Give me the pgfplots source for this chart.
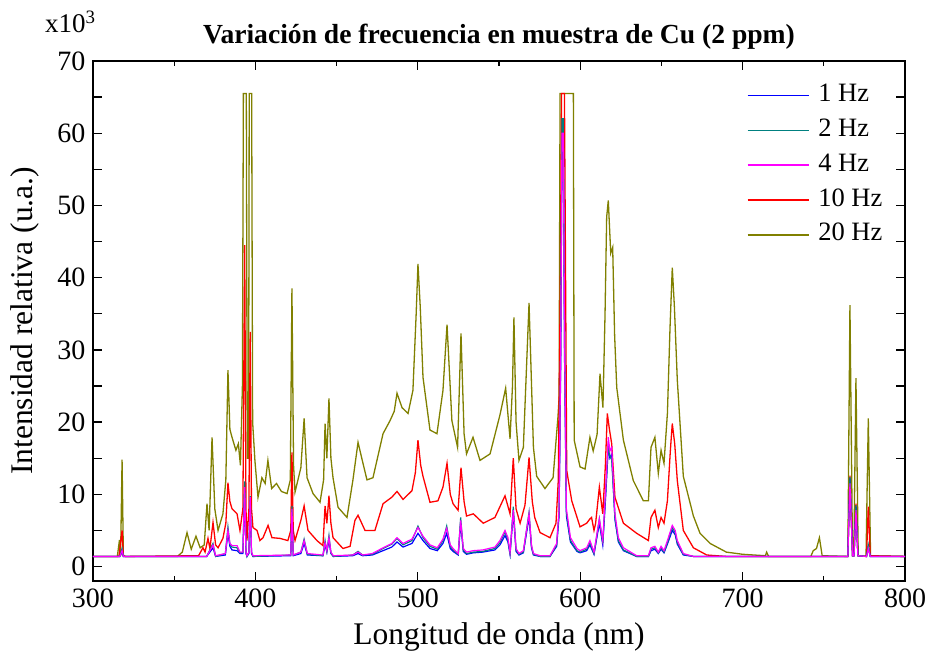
\documentclass[border=0pt]{standalone}
\usepackage{fontspec}
\setmainfont{Liberation Serif}
\usepackage{pgfplots}
\pgfplotsset{compat=1.18}
\definecolor{cA}{RGB}{0,0,255}
\definecolor{cB}{RGB}{0,128,128}
\definecolor{cC}{RGB}{255,0,255}
\definecolor{cD}{RGB}{255,0,0}
\definecolor{cE}{RGB}{128,128,0}
\begin{document}
\begin{tikzpicture}[x=1pt,y=1pt]
\path[use as bounding box] (-93pt,-78pt) rectangle (837pt,581pt);
\begin{axis}[
  scale only axis, width=812pt, height=520pt,
  xmin=300, xmax=800, ymin=-2, ymax=70,
  xtick={300,400,...,800}, minor xtick={350,450,...,750},
  ytick={0,5,...,70},
  yticklabels={0,{},10,{},20,{},30,{},40,{},50,{},60,{},70},
  tick align=inside,
  major tick length=9pt, minor tick length=5pt,
  every tick/.style={black, line width=1.3pt},
  axis line style={line width=1.3pt},
  /pgf/number format/assume math mode=true,
  ticklabel style={font=\fontsize{28}{28}\selectfont},
  xticklabel style={yshift=-4pt},
  yticklabel style={xshift=-4pt},
  title={Variación de frecuencia en muestra de Cu (2 ppm)},
  title style={font=\fontsize{27.6}{27.6}\selectfont\bfseries, at={(axis description cs:0.5,1)}, anchor=base, yshift=12pt},
  xlabel={Longitud de onda (nm)},
  xlabel style={font=\fontsize{31.5}{31.5}\selectfont, at={(axis description cs:0.5,-0.108)}, anchor=center},
  ylabel={Intensidad relativa (u.a.)},
  ylabel style={font=\fontsize{31.5}{31.5}\selectfont, at={(axis description cs:-0.084,0.5)}, anchor=center},
  legend style={draw=none, fill=none, at={(axis description cs:0.805,0.955)}, anchor=north west,
    font=\fontsize{26.5}{26.5}\selectfont, row sep=12.8pt, inner sep=0pt,
    nodes={inner sep=0pt, text height=17pt, text depth=5pt}},
  legend cell align=left,
  legend image code/.code={\draw[#1, line width=1.5pt] (0pt,0pt) -- (61pt,0pt);},
  every axis legend/.append style={column sep=9pt},
]
\addlegendimage{cA}\addlegendentry{1 Hz}
\addlegendimage{cB}\addlegendentry{2 Hz}
\addlegendimage{cC}\addlegendentry{4 Hz}
\addlegendimage{cD}\addlegendentry{10 Hz}
\addlegendimage{cE}\addlegendentry{20 Hz}

% 20 Hz
\addplot[cE, line width=1.3pt, forget plot] coordinates {
(300,1.4)(315,1.4)(316.3,3.7)(317,1.5)(317.9,14.8)(318.7,1.5)(320,1.4)(352,1.4)(355,2.0)(357.9,4.7)(360.5,2.4)(363.4,4.2)(366,2.6)(368.5,3.0)(370.2,8.7)(371.5,5.0)(373.3,17.9)(375,8)(377,5.0)(380,7.3)(381.8,12)(383.1,27.2)(384.3,19)(385.6,17.9)(388,16.1)(389.5,17)(390.8,14)(392,25)(392.6,65.5)(394.4,65.5)(395,15)(395.8,15)(396.2,65.5)(397.7,65.5)(398.3,20)(399.7,14.7)(401.6,9.6)(404,12.3)(406,11.5)(407.7,14.7)(410,10.8)(413,11.5)(416,10.4)(419.5,10.1)(421.5,12)(422.5,38.5)(423.5,14)(424.4,10.3)(428,13.7)(430,20.5)(431.8,12.3)(435.5,10.1)(439.8,8.9)(442,12)(442.9,19.8)(444,15)(445.3,23.3)(446.5,15)(447.8,12.3)(450.9,8.2)(456.4,6.8)(460,11.9)(463.2,17.2)(465.5,15)(468.7,12)(472.4,12.3)(478.6,18.4)(482.9,20.2)(485.5,21.5)(487.2,24)(490.3,22)(494,21.2)(497,24.4)(499,35)(500.1,41.9)(501.5,36)(503.2,26.2)(507.5,18.9)(511.8,18.4)(515.5,24.4)(518,33.5)(521,20.2)(524.5,16.5)(526.6,32.3)(528.5,18.4)(530,15.6)(534,17.9)(538.3,14.7)(544.5,15.6)(550.6,21.0)(554.1,24.7)(556.8,17.7)(558.3,25)(559.2,34.5)(560.5,20)(562.3,14.7)(565,16.5)(568.5,36.5)(571.2,16.5)(573.2,12.5)(578.3,10.8)(583.3,12.3)(586.3,20.7)(587,23.4)(587.6,65.5)(595.8,65.5)(596.3,17.5)(599.9,13.8)(603,13.5)(606,17.9)(608,16)(610.4,18.3)(612.2,26.7)(614,22)(615.3,35)(616.3,48.4)(617.3,50.7)(618.8,43.4)(620,44.2)(621.2,32)(622.5,24.8)(626.6,17.5)(632.7,11.9)(638.9,9.1)(642,9.1)(643.6,16.5)(646,17.9)(648.1,12.9)(649.8,16.1)(651.6,14.3)(653.7,21.2)(655.3,33)(656.7,41.4)(658,36)(659.8,25.8)(663.5,12.5)(669.7,7)(673.8,4.6)(680,3.2)(690,2.0)(700,1.7)(714,1.5)(714.8,2.0)(716,1.4)(742,1.4)(743.5,2.2)(745.5,2.5)(747.3,4.0)(749,1.5)(764.8,1.4)(766.1,36.2)(767.7,1.5)(768.5,1.5)(769.8,26.1)(771.2,1.5)(776,1.4)(777.4,20.5)(778.8,1.5)(800,1.4)
};
% 10 Hz
\addplot[cD, line width=1.3pt, forget plot] coordinates {
(300,1.4)(316,1.4)(317.9,5.0)(318.7,1.5)(320,1.4)(365,1.5)(367.7,2.6)(369,2.0)(370.8,3.9)(372,2.5)(373.9,6.1)(375.5,3.0)(377,2.6)(380,3.9)(381.8,6)(383.1,11.6)(384.3,9)(385.6,8.0)(388.7,7.3)(390.5,5)(392.3,8)(393.4,44.5)(394.2,8)(394.8,3.6)(396,8)(396.8,32.5)(397.6,8)(398.5,5.4)(401,5)(402.8,3.6)(404.7,4)(407.8,5.7)(410.2,4)(415.1,3.9)(420,3.6)(421.8,5)(422.5,15.8)(423.3,5)(424.4,3.6)(428,6.4)(430,8.4)(432.4,5)(437.9,3.6)(441.6,2.9)(442.9,8.4)(444,6)(445.3,9.8)(446.5,6)(447.8,4)(453.9,2.5)(458.3,2.8)(461.3,6.4)(463.2,7.1)(467.5,5)(473.6,5)(478.6,8.7)(484,9.6)(487.2,10.4)(490.9,9.3)(496.4,10.5)(498.5,13)(500.1,17.5)(501.8,14)(503.2,12.5)(507.5,8.9)(512.4,9.1)(515.5,11)(518,14.3)(520,10)(521.7,8.7)(524.8,7.8)(526.6,13.7)(528.5,9)(530,7)(534.2,7.3)(540.3,6)(547.5,6.8)(553.7,9.8)(556.8,7.3)(558.8,15)(560.5,8)(563,6)(566,8.5)(568.5,15.1)(570.5,9)(572,6.8)(575.3,4.7)(581.4,4.0)(585.1,6)(586.5,11.9)(587.8,40)(588.5,65.5)(590.3,65.5)(591,40)(591.7,13.3)(594.8,9.1)(599.9,5.5)(604,6)(606,6.6)(607,6.8)(608.5,5)(609.5,6)(611.8,11)(613.9,7.3)(615.5,14)(616.7,21.2)(618,19)(619.4,17)(621.4,9.6)(626.6,6)(634.8,4.6)(642,3.6)(643.6,6.8)(646,7.8)(648.1,5.4)(649.8,6.8)(651.6,6)(653.7,9.1)(655.5,16)(656.7,19.8)(658.2,17)(659.8,11.9)(663.5,5)(669.7,2.6)(677.9,1.6)(690,1.4)(764.8,1.4)(766.1,12.6)(767.7,1.5)(768.6,1.5)(769.8,8.7)(771,1.5)(776.3,1.4)(777.4,8.3)(778.6,1.5)(800,1.4)
};
% 1 Hz
\addplot[cA, line width=1.2pt, forget plot] coordinates {
(300,1.4)(316.5,1.4)(317.9,2.0)(318.7,1.4)(370,1.4)(373.9,2.6)(375.5,1.4)(381.5,1.6)(383.1,4.6)(384.3,2.8)(385.6,2.3)(388.7,2.2)(390.5,1.8)(392.3,1.8)(393.4,10.5)(394.2,1.8)(394.8,1.4)(396,1.8)(396.8,9.0)(397.6,1.8)(398.5,1.4)(421.8,1.5)(422.5,7.6)(423.3,1.5)(428,1.8)(430,3.2)(432,1.6)(441.6,1.5)(442.9,3.0)(444,2.0)(445.3,3.6)(446.5,1.8)(448,1.4)(460,1.5)(463.2,1.8)(466,1.5)(472,1.6)(478.6,2.2)(484,2.7)(487.2,3.4)(490.9,2.7)(496.4,3.2)(500.1,4.6)(503.2,3.6)(507.5,2.5)(512,2.2)(515.5,3.2)(517.8,4.6)(520,2.5)(521.7,2.1)(524.9,1.6)(526.4,6.0)(528,2.1)(530,1.7)(534.2,1.9)(540,2.0)(547.5,2.3)(550.6,3.0)(553.7,4.3)(555.5,3.4)(556.8,1.7)(558.8,7.4)(560.5,2.1)(562.3,1.6)(565,1.9)(568.5,6.8)(570,2.6)(571.2,1.6)(575.3,1.4)(581.4,1.4)(585.5,2.8)(587,7)(588,28)(588.8,59)(589.6,59)(590.4,28)(591.5,7)(594,3.4)(598,2.1)(599.9,1.9)(604,2.2)(606,3.0)(608.5,1.7)(611.8,6.0)(613.9,3.0)(615.5,9)(617.3,16.5)(618.3,15)(619.4,15.5)(621.4,6.5)(623.5,3.4)(626.6,2.2)(634.8,1.4)(642,1.4)(643.6,2.2)(646,2.4)(648.1,1.8)(649.8,2.4)(651.6,1.9)(653.7,3.1)(656.7,5.0)(658.5,4.4)(659.8,3.1)(663.5,1.6)(669.7,1.4)(764.8,1.4)(766.1,12.2)(767.7,1.5)(768.6,1.5)(769.8,8.3)(771,1.5)(776.3,1.4)(777.4,2.6)(778.6,1.4)(800,1.4)
};
% 2 Hz
\addplot[cB, line width=1.2pt, forget plot] coordinates {
(300,1.4)(316.5,1.4)(317.9,2.5)(318.7,1.4)(370,1.4)(373.9,3.2)(375.5,1.4)(381.5,1.8)(383.1,5.5)(384.3,3.1)(385.6,2.7)(388.7,2.6)(390.5,1.9)(392.3,2)(393.4,11.8)(394.2,2)(394.8,1.4)(396,2)(396.8,9.8)(397.6,2)(398.5,1.4)(421.8,1.6)(422.5,8.4)(423.3,1.6)(428,2)(430,3.8)(432,1.7)(441.6,1.5)(442.9,3.6)(444,2.1)(445.3,4.3)(446.5,1.9)(448,1.4)(460,1.6)(463.2,2.1)(466,1.6)(472,1.7)(478.6,2.5)(484,3.1)(487.2,3.9)(490.9,3.0)(496.4,3.6)(500.1,5.6)(503.2,4.0)(507.5,2.8)(512,2.4)(515.5,3.6)(517.8,5.6)(520,2.8)(521.7,2.3)(524.9,1.7)(526.4,6.8)(528,2.3)(530,1.8)(534.2,2.0)(540,2.1)(547.5,2.5)(550.6,3.3)(553.7,4.8)(555.5,3.7)(556.8,1.8)(558.8,8.3)(560.5,2.3)(562.3,1.7)(565,2.0)(568.5,7.5)(570,2.8)(571.2,1.7)(575.3,1.4)(581.4,1.4)(585.5,3.0)(587,7.5)(588,30)(588.8,62)(589.6,62)(590.4,30)(591.5,7.5)(594,3.6)(598,2.2)(599.9,2.0)(604,2.4)(606,3.3)(608.5,1.8)(611.8,6.6)(613.9,3.2)(615.5,9.5)(617.3,17)(618.3,15.3)(619.4,14.8)(621.4,6.8)(623.5,3.6)(626.6,2.3)(634.8,1.4)(642,1.4)(643.6,2.4)(646,2.6)(648.1,1.9)(649.8,2.6)(651.6,2.0)(653.7,3.3)(656.7,5.4)(658.5,4.7)(659.8,3.3)(663.5,1.7)(669.7,1.4)(764.8,1.4)(766.1,12.4)(767.7,1.5)(768.6,1.5)(769.8,8.5)(771,1.5)(776.3,1.4)(777.4,3.0)(778.6,1.4)(800,1.4)
};
% 4 Hz
\addplot[cC, line width=1.2pt, forget plot] coordinates {
(300,1.4)(316.5,1.4)(317.9,2.2)(318.7,1.4)(370,1.4)(373.9,3.0)(375.5,1.5)(381.5,1.8)(383.1,5)(384.3,3.2)(385.6,2.9)(388.7,2.9)(390.5,2.0)(392.3,2)(393.4,11)(394.2,2)(394.8,1.5)(396,2)(396.8,9.6)(397.6,2)(398.5,1.5)(421.8,1.6)(422.5,8.0)(423.3,1.6)(428,2)(430,3.6)(432,1.8)(441.6,1.6)(442.9,3.3)(444,2.2)(445.3,4.0)(446.5,2)(448,1.5)(460,1.6)(463.2,2.0)(466,1.6)(472,1.8)(478.6,2.6)(484,3.2)(487.2,4)(490.9,3.2)(496.4,3.8)(500.1,5.4)(503.2,4.2)(507.5,3)(512,2.6)(515.5,3.8)(517.8,5.3)(520,3)(521.7,2.5)(524.9,1.8)(526.4,6.4)(528,2.5)(530,2)(534.2,2.2)(540,2.3)(547.5,2.7)(550.6,3.6)(553.7,5.0)(555.5,4)(556.8,2)(558.8,7.8)(560.5,2.5)(562.3,1.8)(565,2.2)(568.5,7.3)(570,3)(571.2,1.8)(575.3,1.5)(581.4,1.5)(585.5,3.2)(587,8)(588,30)(588.8,60)(589.6,60)(590.4,30)(591.5,8)(594,4)(598,2.5)(599.9,2.2)(604,2.6)(606,3.6)(608.5,2)(611.8,6.6)(613.9,3.6)(615.5,10)(617.3,17.9)(618.3,16)(619.4,16.5)(621.4,7.3)(623.5,4)(626.6,2.6)(634.8,1.5)(642,1.5)(643.6,2.6)(646,2.8)(648.1,2)(649.8,2.8)(651.6,2.2)(653.7,3.6)(656.7,5.7)(658.5,5)(659.8,3.6)(663.5,1.8)(669.7,1.4)(764.8,1.4)(766.1,11.5)(767.7,1.5)(768.6,1.5)(769.8,7.8)(771,1.5)(776.3,1.4)(777.4,2.5)(778.6,1.4)(800,1.4)
};
\end{axis}
\node[anchor=base west, font=\fontsize{27}{27}\selectfont, inner sep=0pt] at (-48pt,548pt) {x10\textsuperscript{3}};
\end{tikzpicture}
\end{document}
